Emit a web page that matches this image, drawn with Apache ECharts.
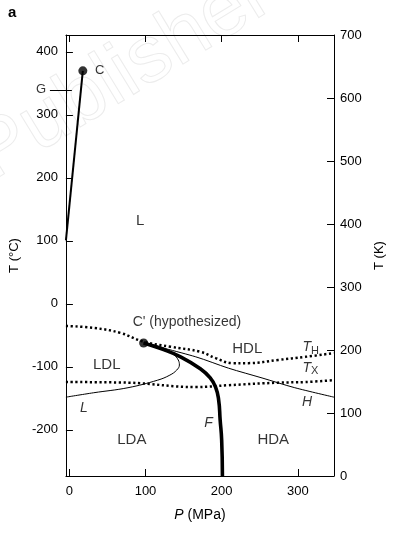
<!DOCTYPE html>
<html><head><meta charset="utf-8">
<style>html,body{margin:0;padding:0;background:#fff}#c{width:395px;height:534px}</style>
<script src="https://cdn.jsdelivr.net/npm/echarts@6/dist/echarts.min.js"></script>
</head><body><div id="c"></div>
<script>
// values: [P (MPa), T (°C)]
const liquidVapor = [[-4.5, 101], [17.7, 370]];
const pointC = [[17.7, 370]];
const pointC2 = [[97.5, -62]];
const curveTH = [[-4.5, -35], [32, -38], [67, -46], [97.5, -60], [133, -68], [172, -76], [192, -86], [214, -94], [235, -94], [274, -89], [310, -84], [347.5, -78]];
const curveTX = [[-4.5, -124], [77, -125], [166, -132], [209, -129], [274, -125], [310, -124], [347.5, -121]];
const curveF = [[97.5, -62], [120, -71], [146, -84], [172, -103], [185, -117.5], [192, -132], [196, -152], [198, -184], [200, -216], [201, -273.15]];
const curveL = [[-4.5, -148], [32, -141], [77, -133], [116, -121], [132, -113], [141, -105], [144.5, -97], [143, -89], [137, -80], [126, -71], [111, -65], [97.5, -62]];
const curveH = [[97.5, -62], [166, -84], [209, -102], [253, -117.5], [296, -133], [347.5, -148]];
const gMarker = [[-25.5, 340], [3.3, 340]];
const xTicks = [0, 100, 200, 300];
const yTicksC = [-200, -100, 0, 100, 200, 300, 400];
const kelvinTicks = [0, 100, 200, 300, 400, 500, 600, 700];
const annoText = ['C', 'G', 'L', "C' (hypothesized)", 'LDL', 'HDL', '{i|T}{s|H}', '{i|T}{s|X}', '{i|H}', '{i|L}', '{i|F}', 'LDA', 'HDA'];
const annoP = [40, -37.3, 92.9, 83.1, 49.1, 233.6, 306, 306, 312.2, 19, 182.6, 82, 267.7];
const annoT = [371.4, 339.7, 131.7, -28.6, -96.8, -71.4, -69, -101.6, -156, -165, -189, -216, -216];
const annoSize = [13, 13, 15, 14, 15, 15, 14, 14, 14, 14, 14, 15, 15];
const annoAlign = ['center', 'center', 'center', 'left', 'center', 'center', 'left', 'left', 'center', 'center', 'center', 'center', 'center'];

const FONT = '"Liberation Sans", Arial, sans-serif';
const chart = echarts.init(document.getElementById('c'), null, {renderer: 'canvas'});

const annoData = annoText.map((t, i) => ({
  value: [annoP[i], annoT[i]],
  label: {
    show: true, formatter: t, position: 'inside', align: annoAlign[i], verticalAlign: 'middle',
    fontSize: annoSize[i], color: '#000', fontFamily: FONT,
    rich: {
      i: {fontStyle: 'italic', fontSize: 14, fontFamily: FONT, color: '#000', lineHeight: 18, verticalAlign: 'middle'},
      s: {fontSize: 11, fontFamily: FONT, color: '#000', lineHeight: 18, verticalAlign: 'bottom'}
    }
  }
}));

const lineBase = {type: 'line', showSymbol: false, symbol: 'none', silent: true, animation: false, z: 3};

chart.setOption({
  animation: false,
  backgroundColor: '#fff',
  graphic: [
    {id: 'tag', type: 'text', left: 8, top: 5, z: 10, style: {text: 'a', font: 'bold 15px ' + FONT, fill: '#000'}},
    {id: 'wm', type: 'text', x: -40, y: 128, rotation: 0.55, z: -10, silent: true,
     style: {text: 'Publisher', font: '80px ' + FONT, fill: 'rgba(0,0,0,0)', stroke: '#ececec', lineWidth: 1}}
  ],
  grid: {left: 65, right: 61, top: 35, bottom: 58, containLabel: false},
  xAxis: [
    {type: 'value', position: 'bottom', min: -4.5, max: 347.5,
     name: '{i|P} (MPa)', nameLocation: 'middle', nameGap: 32,
     nameTextStyle: {fontSize: 14, fontFamily: FONT, color: '#000',
       rich: {i: {fontStyle: 'italic', fontSize: 14, fontFamily: FONT, color: '#000'}}},
     axisLine: {show: true, onZero: false, lineStyle: {color: '#000', width: 1}},
     axisTick: {show: true, inside: true, length: 7, customValues: xTicks, lineStyle: {color: '#000'}},
     axisLabel: {show: true, customValues: xTicks, fontSize: 13, fontFamily: FONT, color: '#000', margin: 9},
     splitLine: {show: false}},
    {type: 'value', position: 'top', min: -4.5, max: 347.5,
     axisLine: {show: true, onZero: false, lineStyle: {color: '#000', width: 1}},
     axisTick: {show: true, inside: true, length: 7, customValues: xTicks, lineStyle: {color: '#000'}},
     axisLabel: {show: false}, splitLine: {show: false}}
  ],
  yAxis: [
    {type: 'value', position: 'left', min: -273.15, max: 426.85,
     name: 'T (°C)', nameLocation: 'middle', nameGap: 37, nameRotate: 90,
     nameTextStyle: {fontSize: 13, fontFamily: FONT, color: '#000'},
     axisLine: {show: true, onZero: false, lineStyle: {color: '#000', width: 1}},
     axisTick: {show: true, inside: true, length: 7, customValues: yTicksC, lineStyle: {color: '#000'}},
     axisLabel: {show: true, customValues: yTicksC, fontSize: 13, fontFamily: FONT, color: '#000', margin: 8},
     splitLine: {show: false}},
    {type: 'value', position: 'right', min: 0, max: 700, interval: 100,
     name: 'T (K)', nameLocation: 'middle', nameGap: 32, nameRotate: 90,
     nameTextStyle: {fontSize: 13, fontFamily: FONT, color: '#000'},
     axisLine: {show: true, onZero: false, lineStyle: {color: '#000', width: 1}},
     axisTick: {show: true, inside: true, length: 7, customValues: kelvinTicks, lineStyle: {color: '#000'}},
     axisLabel: {show: true, customValues: kelvinTicks, fontSize: 13, fontFamily: FONT, color: '#000', margin: 6},
     splitLine: {show: false}}
  ],
  series: [
    Object.assign({}, lineBase, {name: 'TH', data: curveTH, smooth: 0.4,
      lineStyle: {color: '#000', width: 2.5, type: [2.2, 2.6], cap: 'butt'}}),
    Object.assign({}, lineBase, {name: 'TX', data: curveTX, smooth: 0.4,
      lineStyle: {color: '#000', width: 2.5, type: [2.2, 2.6], cap: 'butt'}}),
    Object.assign({}, lineBase, {name: 'L', data: curveL, smooth: 0.4,
      lineStyle: {color: '#000', width: 1}}),
    Object.assign({}, lineBase, {name: 'H', data: curveH, smooth: 0.3,
      lineStyle: {color: '#000', width: 1}}),
    Object.assign({}, lineBase, {name: 'F', data: curveF, smooth: 0.5,
      lineStyle: {color: '#000', width: 3.6}}),
    Object.assign({}, lineBase, {name: 'LV', data: liquidVapor,
      lineStyle: {color: '#000', width: 2}}),
    {type: 'scatter', name: 'C', data: pointC, symbolSize: 9, itemStyle: {color: '#000'}, z: 5, silent: true},
    {type: 'scatter', name: "C'", data: pointC2, symbolSize: 9, itemStyle: {color: '#000'}, z: 5, silent: true},
    {type: 'scatter', name: 'labels', data: annoData, symbolSize: 0, clip: false, z: 6, silent: true,
     itemStyle: {color: 'rgba(0,0,0,0)'}}
  ]
});

// G marker line, positioned through the axes' own scales
const g0 = chart.convertToPixel({xAxisIndex: 0, yAxisIndex: 0}, gMarker[0]);
const g1 = chart.convertToPixel({xAxisIndex: 0, yAxisIndex: 0}, gMarker[1]);
chart.setOption({graphic: [{id: 'gline', type: 'line', z: 10, silent: true,
  shape: {x1: g0[0], y1: Math.round(g0[1]) + 0.5, x2: g1[0], y2: Math.round(g1[1]) + 0.5},
  style: {stroke: '#000', lineWidth: 1}}]});
</script></body></html>
